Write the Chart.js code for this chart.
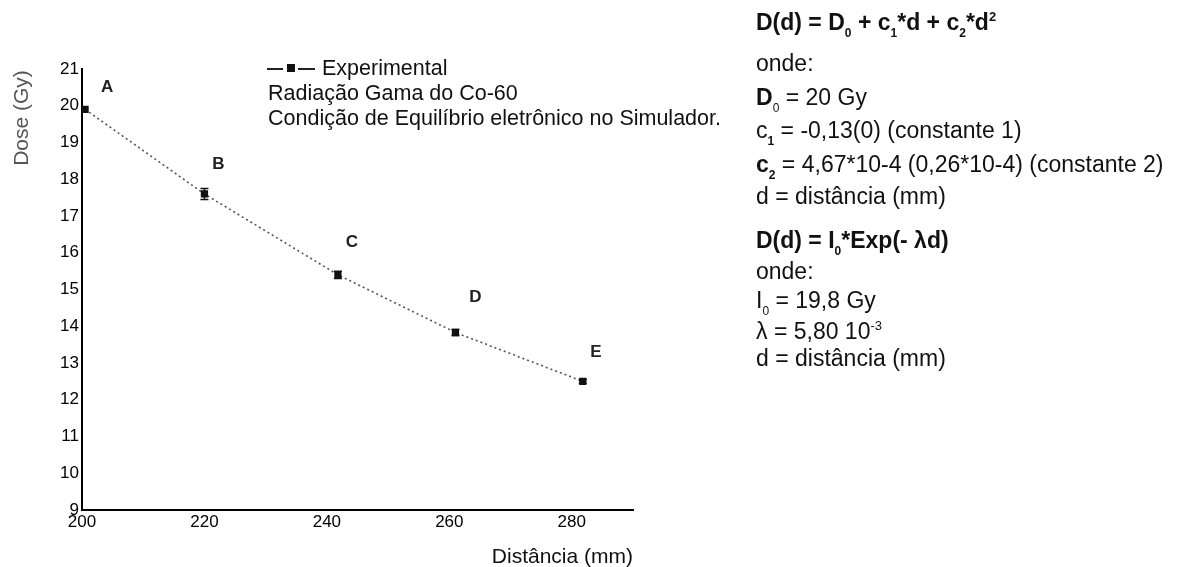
<!DOCTYPE html>
<html>
<head>
<meta charset="utf-8">
<script src="https://cdn.jsdelivr.net/npm/chart.js@4.4.1/dist/chart.umd.min.js"></script>
<style>
  html, body { margin: 0; padding: 0; background: #fff; }
  #wrap { position: relative; width: 1179px; height: 567px; overflow: hidden; font-family: "Liberation Sans", Arial, sans-serif; color: #111; }
  canvas { position: absolute; left: 0; top: 0; }
  .t { position: absolute; white-space: nowrap; line-height: 26px; }
  .leg { font-size: 21.5px; }
  .rt { font-size: 23px; left: 756px; }
  .b { font-weight: bold; }
  .sb { font-size: 12px; position: relative; top: 7px; }
  .sp { font-size: 13px; position: relative; top: -9px; }
  .sym { display: inline-block; position: relative; width: 48px; height: 26px; vertical-align: top; margin-right: 7px; }
  .sym .l1 { position: absolute; left: 0; top: 13px; width: 16px; height: 1.5px; background: #222; }
  .sym .sq { position: absolute; left: 20px; top: 9px; width: 8px; height: 8px; background: #111; }
  .sym .l2 { position: absolute; left: 31px; top: 13px; width: 17px; height: 1.5px; background: #222; }
</style>
</head>
<body>
<div id="wrap">
  <canvas id="c" width="1179" height="567"></canvas>

  <div class="t leg" style="left:267px; top:55px;"><span class="sym"><span class="l1"></span><span class="sq"></span><span class="l2"></span></span>Experimental</div>
  <div class="t leg" style="left:268px; top:80px;">Radiação Gama do Co-60</div>
  <div class="t leg" style="left:268px; top:105px;">Condição de Equilíbrio eletrônico no Simulador.</div>

  <div class="t rt b" style="top:9px;">D(d) = D<span class="sb">0</span> + c<span class="sb">1</span>*d + c<span class="sb">2</span>*d<span class="sp">2</span></div>
  <div class="t rt" style="top:50px;">onde:</div>
  <div class="t rt" style="top:84px;"><b>D</b><span class="sb">0</span> = 20 Gy</div>
  <div class="t rt" style="top:117px;">c<span class="sb b">1</span> = -0,13(0) (constante 1)</div>
  <div class="t rt" style="top:151px;"><b>c</b><span class="sb b">2</span> = 4,67*10-4 (0,26*10-4) (constante 2)</div>
  <div class="t rt" style="top:183px;">d = distância (mm)</div>

  <div class="t rt b" style="top:227px;">D(d) = I<span class="sb">0</span>*Exp(- λd)</div>
  <div class="t rt" style="top:258px;">onde:</div>
  <div class="t rt" style="top:287px;">I<span class="sb">0</span> = 19,8 Gy</div>
  <div class="t rt" style="top:318px;">λ = 5,80 10<span class="sp">-3</span></div>
  <div class="t rt" style="top:345px;">d = distância (mm)</div>
</div>

<script>
// ---- data ----
const distances   = [200.5, 220, 241.8, 261, 281.8];   // mm
const doseValues  = [19.9, 17.6, 15.4, 13.83, 12.5];   // Gy
const doseErrors  = [0, 0.15, 0.1, 0.08, 0.05];        // Gy
const pointLabels = ['A', 'B', 'C', 'D', 'E'];
const xTickValues = [200, 220, 240, 260, 280];
const yTickValues = [9, 10, 11, 12, 13, 14, 15, 16, 17, 18, 19, 20, 21];
const xTitle = 'Distância (mm)';
const yTitle = 'Dose (Gy)';

const FONT = '"Liberation Sans", Arial, sans-serif';

const extrasPlugin = {
  id: 'extras',
  afterDatasetsDraw(chart) {
    const ctx = chart.ctx;
    const xs = chart.scales.x, ys = chart.scales.y;
    ctx.save();
    // error bars
    ctx.strokeStyle = '#111';
    ctx.lineWidth = 1.5;
    distances.forEach((d, i) => {
      const e = doseErrors[i];
      if (!e) return;
      const px = xs.getPixelForValue(d);
      const yt = ys.getPixelForValue(doseValues[i] + e);
      const yb = ys.getPixelForValue(doseValues[i] - e);
      ctx.beginPath();
      ctx.moveTo(px, yt); ctx.lineTo(px, yb);
      ctx.moveTo(px - 4, yt); ctx.lineTo(px + 4, yt);
      ctx.moveTo(px - 4, yb); ctx.lineTo(px + 4, yb);
      ctx.stroke();
    });
    // point labels
    const offs = chart.options.plugins.extras.labelOffsets;
    ctx.fillStyle = '#222';
    ctx.font = 'bold 17px ' + FONT;
    ctx.textAlign = 'center';
    ctx.textBaseline = 'middle';
    pointLabels.forEach((lab, i) => {
      const px = xs.getPixelForValue(distances[i]);
      const py = ys.getPixelForValue(doseValues[i]);
      const o = offs[i];
      ctx.fillText(lab, px + o[0], py + o[1]);
    });
    // axis titles
    ctx.font = '21px ' + FONT;
    ctx.fillStyle = '#111';
    ctx.textAlign = 'right';
    ctx.fillText(xTitle, xs.right, 557);
    ctx.save();
    ctx.translate(22, 118);
    ctx.rotate(-Math.PI / 2);
    ctx.textAlign = 'center';
    ctx.fillStyle = '#555';
    ctx.fillText(yTitle, 0, 0);
    ctx.restore();
    ctx.restore();
  }
};

new Chart(document.getElementById('c'), {
  type: 'scatter',
  data: {
    datasets: [{
      label: 'Experimental',
      data: distances.map((d, i) => ({ x: d, y: doseValues[i] })),
      showLine: true,
      borderColor: '#555',
      borderWidth: 1.6,
      borderDash: [2, 3],
      pointStyle: 'rect',
      pointRadius: 4,
      pointBackgroundColor: '#111',
      pointBorderColor: '#111',
      tension: 0
    }]
  },
  options: {
    responsive: false,
    devicePixelRatio: 1,
    animation: false,
    layout: { padding: { top: 69, right: 546, bottom: 0, left: 0 } },
    plugins: {
      legend: { display: false },
      tooltip: { enabled: false },
      extras: { labelOffsets: [[22, -22], [14, -30], [14, -32], [20, -35], [13, -29]] }
    },
    scales: {
      x: {
        type: 'linear',
        min: 200, max: 290,
        afterBuildTicks: (axis) => { axis.ticks = xTickValues.map(v => ({ value: v })); },
        afterFit: (axis) => { axis.height = 57; },
        grid: { display: false, drawTicks: false },
        border: { display: true, color: '#000', width: 2 },
        ticks: { color: '#000', font: { family: FONT, size: 17 }, padding: 2, maxRotation: 0, autoSkip: false }
      },
      y: {
        type: 'linear',
        min: 9, max: 21,
        afterBuildTicks: (axis) => { axis.ticks = yTickValues.map(v => ({ value: v })); },
        afterFit: (axis) => { axis.width = 82; },
        grid: { display: false, drawTicks: false },
        border: { display: true, color: '#000', width: 2 },
        ticks: { color: '#000', font: { family: FONT, size: 17 }, padding: 3, autoSkip: false }
      }
    }
  },
  plugins: [extrasPlugin]
});
</script>
</body>
</html>
